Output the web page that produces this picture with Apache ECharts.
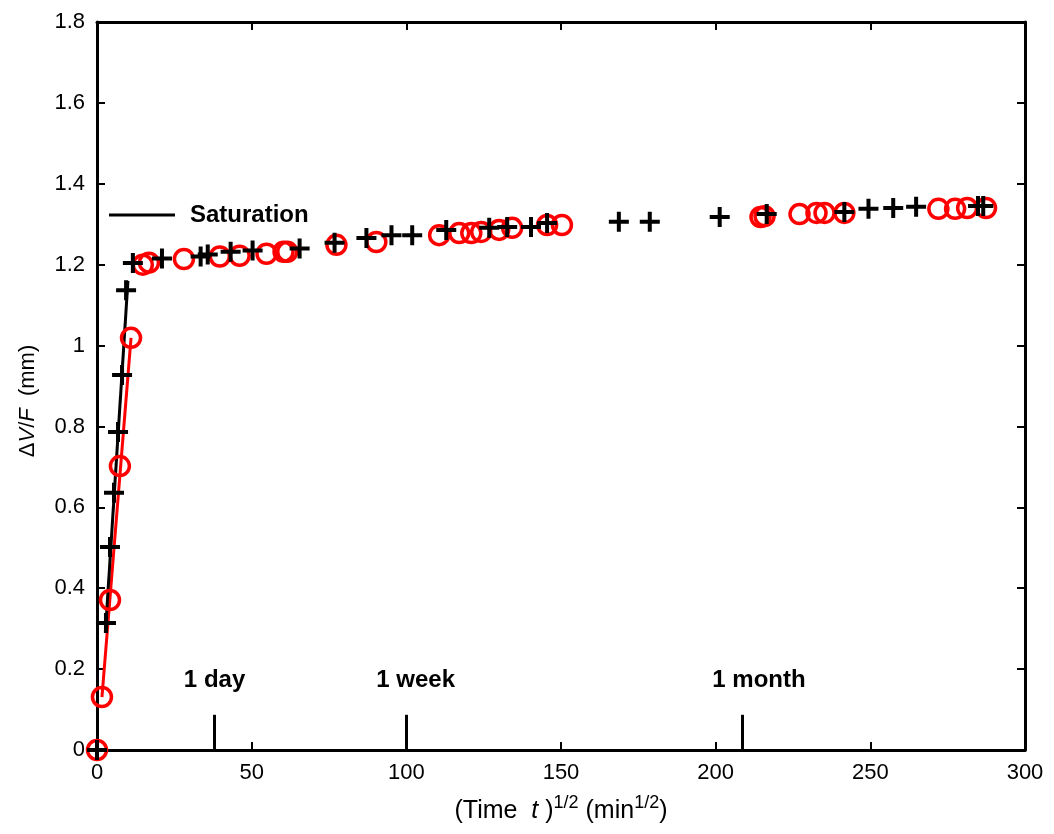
<!DOCTYPE html>
<html>
<head>
<meta charset="utf-8">
<title>Saturation</title>
<script src="https://cdn.jsdelivr.net/npm/echarts@6/dist/echarts.min.js"></script>
<style>
    html, body { margin: 0; padding: 0; background: #fff; }
    #div_chart { width: 1054px; height: 834px; }
</style>
</head>
<body>
<div id="div_chart"></div>
<script>
// 十字符号数据 (black +)
var crossX = [0, 2.9, 4.2, 5.5, 6.8, 8.1, 9.4, 11.6, 21, 33.5, 35.8, 43.2, 50.3, 65.5,
    76.8, 87.1, 95.2, 101.9, 112.9, 126.8, 132.6, 140.3, 145.5,
    168.7, 178.7, 201.3, 216.5, 241.6, 249.4, 257.4, 264.8, 284.8, 286.5];
var crossY = [0, 0.314, 0.502, 0.636, 0.786, 0.927, 1.137, 1.204, 1.215, 1.22, 1.225, 1.232, 1.235, 1.24,
    1.254, 1.266, 1.273, 1.273, 1.286, 1.291, 1.293, 1.293, 1.303,
    1.306, 1.306, 1.318, 1.325, 1.33, 1.338, 1.34, 1.343, 1.345, 1.345];

// 圆圈数据 (red o)
var circleX = [0, 1.6, 4.2, 7.4, 11.0, 14.8, 16.8, 28.1, 39.7, 46.1, 54.8, 60.3, 61.5,
    77.4, 90.3, 110.6, 117.1, 121, 124.2, 130, 134.2, 145.5, 150.3,
    214.5, 215.8, 227.1, 232.6, 235.2, 241.6, 272, 277.4, 281.3, 287.4];
var circleY = [0, 0.131, 0.371, 0.702, 1.019, 1.2, 1.205, 1.214, 1.22, 1.222, 1.227, 1.232, 1.232,
    1.249, 1.256, 1.273, 1.278, 1.278, 1.281, 1.286, 1.291, 1.298, 1.298,
    1.318, 1.32, 1.325, 1.328, 1.328, 1.328, 1.338, 1.338, 1.34, 1.34];

// 拟合直线
var blackFitX = [2.7, 10.0];
var blackFitY = [0.29, 1.16];
var redFitX = [1.6, 11.0];
var redFitY = [0.131, 1.019];

// 时间标记
var markNames = ["1 day", "1 week", "1 month"];
var markTickX = [38, 100, 208.7];
var markTickTop = 0.087;
var markLabelX = [38, 103, 214];
var markLabelY = 0.173;

// 坐标轴
var xMin = 0, xMax = 300, xStep = 50;
var yMin = 0, yMax = 1.8, yStep = 0.2;

function zip(xs, ys) {
    var out = [];
    for (var i = 0; i < xs.length; i++) {
        out.push([xs[i], ys[i]]);
    }
    return out;
}

// 十字形状
var plusPath = 'path://M-2,-10 L2,-10 L2,-2 L10,-2 L10,2 L2,2 L2,10 L-2,10 L-2,2 L-10,2 L-10,-2 L-2,-2 Z';

function axisBase(extra) {
    var base = {
        type: 'value',
        splitLine: {show: false},
        axisLine: {show: true, onZero: false, lineStyle: {color: '#000', width: 3}},
        axisTick: {show: true, inside: true, length: 8, lineStyle: {color: '#000', width: 2}}
    };
    for (var k in extra) {
        base[k] = extra[k];
    }
    return base;
}

function showChart() {
    var fontName = '"Liberation Sans", Arial, Helvetica, sans-serif';

    var tickLines = [];
    for (var i = 0; i < markTickX.length; i++) {
        tickLines.push([{coord: [markTickX[i], 0]}, {coord: [markTickX[i], markTickTop]}]);
    }
    var labelData = [];
    for (var j = 0; j < markNames.length; j++) {
        labelData.push({name: markNames[j], value: [markLabelX[j], markLabelY]});
    }

    var option = {
        animation: false,
        textStyle: {fontFamily: fontName},
        grid: {left: 97, right: 29, top: 22, bottom: 84, containLabel: false},
        legend: {
            data: ['Saturation'],
            left: 104,
            top: 198,
            icon: 'rect',
            itemWidth: 66,
            itemHeight: 3,
            textStyle: {color: '#000', fontSize: 24, fontWeight: 'bold', fontFamily: fontName, padding: [0, 0, 0, 10]}
        },
        xAxis: [
            axisBase({
                min: xMin, max: xMax, interval: xStep,
                position: 'bottom',
                axisLabel: {color: '#000', fontSize: 22, margin: 12, fontFamily: fontName},
                name: '(Time  {i|t} ){sup|1/2} (min{sup|1/2})',
                nameLocation: 'middle',
                nameGap: 44,
                nameTextStyle: {
                    color: '#000', fontSize: 25, fontFamily: fontName,
                    rich: {
                        i: {fontStyle: 'italic', fontSize: 25, fontFamily: fontName},
                        sup: {fontSize: 18, fontFamily: fontName, padding: [0, 0, 16, 0]}
                    }
                }
            }),
            axisBase({
                min: xMin, max: xMax, interval: xStep,
                position: 'top',
                axisLabel: {show: false}
            })
        ],
        yAxis: [
            axisBase({
                min: yMin, max: yMax, interval: yStep,
                position: 'left',
                axisLabel: {color: '#000', fontSize: 22, margin: 12, fontFamily: fontName},
                name: '{n|\u0394}{i|V}{n|/}{i|F}{n|  (mm)}',
                nameLocation: 'middle',
                nameGap: 58,
                nameTextStyle: {
                    color: '#000', fontSize: 22, fontFamily: fontName,
                    padding: [0, 30, 0, 0],
                    rich: {
                        n: {fontSize: 22, fontFamily: fontName},
                        i: {fontStyle: 'italic', fontSize: 22, fontFamily: fontName}
                    }
                }
            }),
            axisBase({
                min: yMin, max: yMax, interval: yStep,
                position: 'right',
                axisLabel: {show: false}
            })
        ],
        series: [
            {
                name: 'redFit',
                type: 'line',
                data: zip(redFitX, redFitY),
                symbol: 'none',
                lineStyle: {color: '#ff0000', width: 3},
                z: 2
            },
            {
                name: 'Saturation',
                type: 'line',
                data: zip(blackFitX, blackFitY),
                symbol: 'none',
                itemStyle: {color: '#000'},
                lineStyle: {color: '#000', width: 3},
                z: 3
            },
            {
                name: 'circles',
                type: 'scatter',
                data: zip(circleX, circleY),
                symbol: 'circle',
                symbolSize: 19,
                itemStyle: {color: 'rgba(0,0,0,0)', borderColor: '#ff0000', borderWidth: 3.5, opacity: 1},
                z: 4
            },
            {
                name: 'crosses',
                type: 'scatter',
                data: zip(crossX, crossY),
                symbol: plusPath,
                symbolSize: 20,
                itemStyle: {color: '#000', opacity: 1},
                z: 5
            },
            {
                name: 'timeMarks',
                type: 'scatter',
                data: labelData,
                symbolSize: 0,
                itemStyle: {opacity: 1},
                label: {
                    show: true,
                    position: 'inside',
                    formatter: '{b}',
                    color: '#000',
                    fontSize: 24,
                    fontWeight: 'bold',
                    fontFamily: fontName
                },
                markLine: {
                    silent: true,
                    symbol: 'none',
                    label: {show: false},
                    lineStyle: {color: '#000', width: 3, type: 'solid'},
                    data: tickLines
                },
                z: 6
            }
        ]
    };

    var dom_chart = echarts.init(document.getElementById('div_chart'));
    dom_chart.setOption(option);
}

showChart();
</script>
</body>
</html>
